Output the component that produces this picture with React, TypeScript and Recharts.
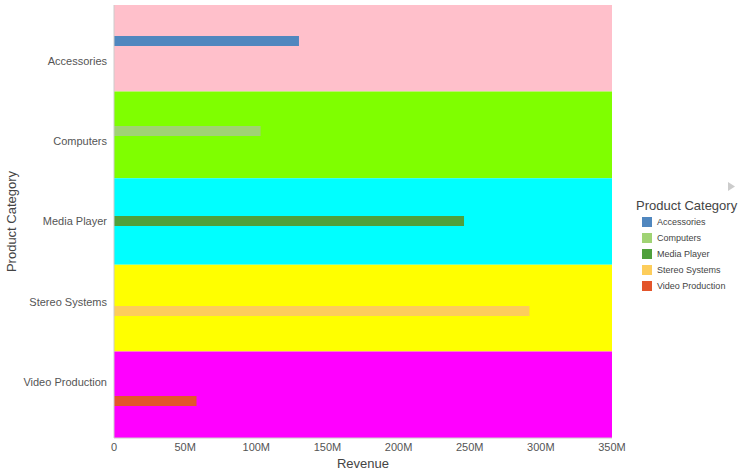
import { BarChart, Bar, XAxis, YAxis, ReferenceArea } from 'recharts';

const categories = ['Accessories', 'Computers', 'Media Player', 'Stereo Systems', 'Video Production'];
const revenue = [130000000, 103000000, 246000000, 292000000, 58000000];
const barColors = ['#5087bf', '#a0d374', '#4fa03c', '#fdcd5b', '#e3552b'];
const bandColors = ['#ffc0cb', '#7fff00', '#00ffff', '#ffff00', '#ff00ff'];
const xTicks = [0, 50000000, 100000000, 150000000, 200000000, 250000000, 300000000, 350000000];

// one row per category, each series only has a value in its own category
const data = categories.map((cat, i) => {
  const row: Record<string, string | number | null> = { category: cat };
  categories.forEach((s, j) => {
    row[s] = i === j ? revenue[i] : null;
  });
  return row;
});

const fmt = (v: number) => (v === 0 ? '0' : `${v / 1000000}M`);

const font = '"Liberation Sans", Arial, sans-serif';

const YTitle = ({ viewBox }: any) => {
  const cy = viewBox.y + viewBox.height / 2;
  return (
    <text x={15.5} y={cy} transform={`rotate(-90 15.5 ${cy})`} textAnchor="middle" fill="#444" fontSize={13} fontFamily={font}>
      Product Category
    </text>
  );
};

function Legend() {
  return (
    <div style={{ position: 'absolute', left: 636, top: 182, fontFamily: font, color: '#444' }}>
      <svg width={8} height={9} style={{ position: 'absolute', left: 92, top: 0 }}>
        <polygon points="0,0 7,4.5 0,9" fill="#cccccc" />
      </svg>
      <div style={{ fontSize: 13, marginTop: 16, lineHeight: '16px', whiteSpace: 'nowrap' }}>Product Category</div>
      {categories.map((c, i) => (
        <div key={c} style={{ display: 'flex', alignItems: 'center', height: 16, marginLeft: 6, fontSize: 9, whiteSpace: 'nowrap' }}>
          <span style={{ width: 10, height: 10, background: barColors[i], display: 'inline-block', marginRight: 5 }} />
          {c}
        </div>
      ))}
    </div>
  );
}

export default function App() {
  return (
    <div style={{ position: 'absolute', left: 0, top: 0, width: 740, height: 473, background: '#fff' }}>
      <BarChart
        width={740}
        height={473}
        data={data}
        layout="vertical"
        margin={{ top: 5, right: 128, left: 0, bottom: 0 }}
        barSize={10}
        barGap={-6.6}
      >
        <XAxis
          type="number"
          domain={[0, 350000000]}
          ticks={xTicks}
          tickFormatter={fmt}
          height={35}
          tickLine={false}
          tickSize={3}
          axisLine={{ stroke: '#cccccc' }}
          tick={{ fill: '#555', fontSize: 11, fontFamily: font }}
          interval={0}
          label={{ value: 'Revenue', position: 'insideBottom', offset: 5, fill: '#444', fontSize: 13, fontFamily: font }}
        />
        <YAxis yAxisId="main" type="category" dataKey="category" hide width={0} />
        <YAxis
          yAxisId="labels"
          type="category"
          dataKey="category"
          width={114}
          padding={{ top: 16, bottom: 16 }}
          tickLine={false}
          tickSize={5}
          axisLine={{ stroke: '#cccccc' }}
          tick={{ fill: '#555', fontSize: 11, fontFamily: font }}
          interval={0}
          label={<YTitle />}
        />
        {categories.map((c, i) => (
          <ReferenceArea key={c} yAxisId="main" y1={c} y2={c} fill={bandColors[i]} fillOpacity={1} stroke="none" />
        ))}
        {categories.map((c, i) => (
          <Bar key={c} yAxisId="main" dataKey={c} fill={barColors[i]} isAnimationActive={false} />
        ))}
      </BarChart>
      <Legend />
    </div>
  );
}
